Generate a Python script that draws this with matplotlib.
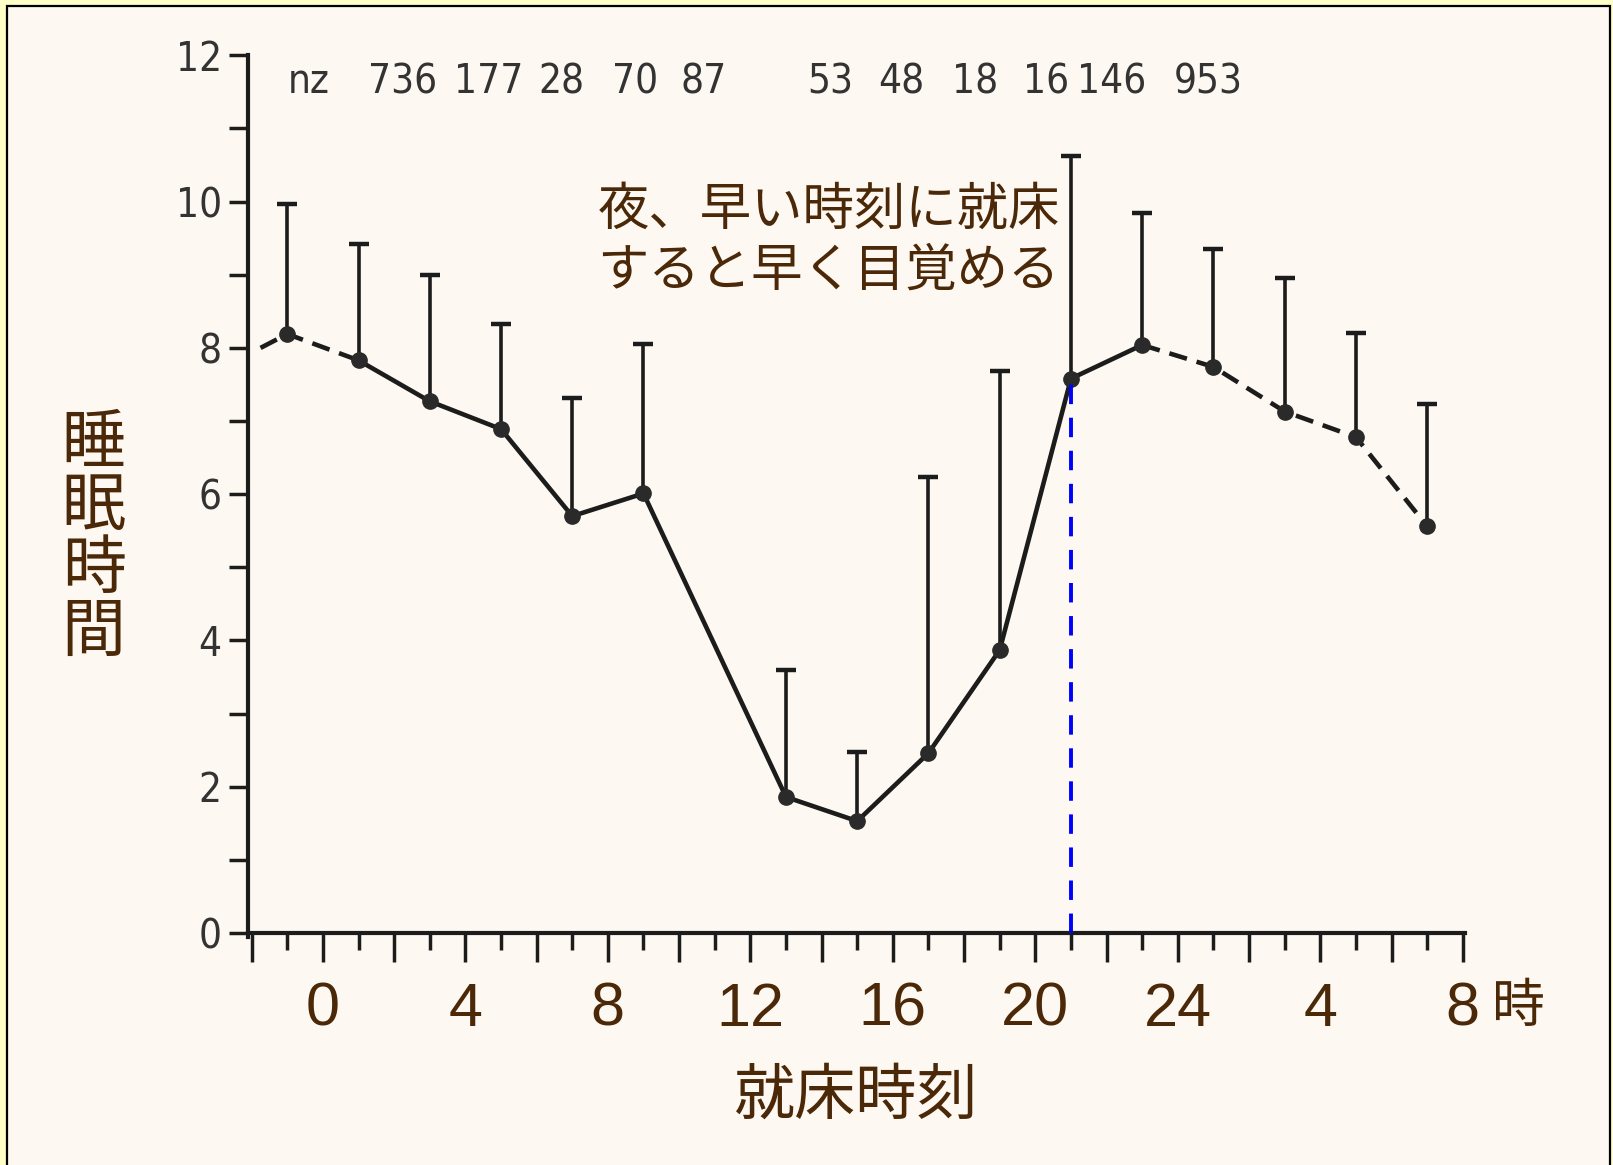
import matplotlib
matplotlib.use("Agg")
import matplotlib.pyplot as plt
from matplotlib.patches import Rectangle
from matplotlib.ticker import MultipleLocator, FixedLocator

plt.rcParams['font.family'] = ['Noto Sans CJK JP', 'DejaVu Sans']

# ------------------------------------------------------
# Data: mean sleep length (h) by bedtime (clock hours, continuing past 24)
bed_hours = [-1, 1, 3, 5, 7, 9, 13, 15, 17, 19, 21, 23, 25, 27, 29, 31]
sleep_mean = [8.19, 7.83, 7.27, 6.89, 5.70, 6.01, 1.86, 1.53, 2.46, 3.87,
              7.58, 8.04, 7.74, 7.13, 6.78, 5.56]
sleep_upper = [9.97, 9.42, 8.99, 8.33, 7.31, 8.05, 3.59, 2.48, 6.24, 7.69,
               10.62, 9.85, 9.35, 8.96, 8.21, 7.23]
# the curve enters the panel from the left edge
lead_in_hour = -1.75
lead_in_value = 8.0

# counts written across the top of the panel
nz_labels = ['nz', '736', '177', '28', '70', '87',
             '53', '48', '18', '16', '146', '953']
nz_hours = [-0.4, 2.25, 4.65, 6.7, 8.75, 10.7,
            14.25, 16.25, 18.3, 20.3, 22.15, 24.85]

xtick_hours = [0, 4, 8, 12, 16, 20, 24, 28, 32]
xtick_labels = ['0', '4', '8', '12', '16', '20', '24', '4', '8']
ytick_values = [0, 2, 4, 6, 8, 10, 12]
# ------------------------------------------------------

ink = '#1c1c1c'
brown = '#4a2808'
grey = '#333333'

fig = plt.figure(figsize=(16.13, 11.65), dpi=100, facecolor='#ffffc8')
fig.patches.append(Rectangle((7 / 1613, -0.01), 1603 / 1613, 1.01 - 6 / 1165,
                             transform=fig.transFigure, facecolor='#fdf8f1',
                             edgecolor='black', linewidth=1.6, zorder=-10))

ax = fig.add_axes([0.1538, 0.1991, 0.7542, 0.7534])
ax.set_facecolor('none')
ax.set_xlim(-2.1, 32.05)
ax.set_ylim(0, 12)

for side in ['top', 'right']:
    ax.spines[side].set_visible(False)
for side in ['left', 'bottom']:
    ax.spines[side].set_linewidth(3)
    ax.spines[side].set_color(ink)
ax.spines['left'].set_bounds(-0.05, 12)

# y axis: major every 2 h, minor in between
ax.yaxis.set_major_locator(FixedLocator(ytick_values))
ax.yaxis.set_minor_locator(MultipleLocator(1))
ax.tick_params(axis='y', which='both', direction='out', length=14, width=2.5,
               color=ink, pad=5)
ax.set_yticklabels([str(v) for v in ytick_values], color=grey, fontsize=29,
                   family=['DejaVu Sans'], fontstretch='condensed')

# x axis: hourly ticks, longer on even hours, labels every 4 h
ax.xaxis.set_major_locator(FixedLocator(list(range(-2, 33, 2))))
ax.xaxis.set_minor_locator(FixedLocator(list(range(-1, 33, 2))))
ax.set_xticklabels([xtick_labels[xtick_hours.index(h)] if h in xtick_hours else ''
                    for h in range(-2, 33, 2)],
                   color=brown, fontsize=44, family=['Liberation Sans', 'DejaVu Sans'])
ax.tick_params(axis='x', which='major', direction='out', length=21, width=2.5,
               color=ink, pad=14)
ax.tick_params(axis='x', which='minor', direction='out', length=12, width=2.5,
               color=ink)

# upper error bars: stem from the mean to the upper value, capped
ax.vlines(bed_hours, sleep_mean, sleep_upper, color=ink, lw=2.6, zorder=3)
ax.plot(bed_hours, sleep_upper, linestyle='none', marker='_', markersize=14,
        markeredgewidth=3.2, color=ink, zorder=3)

# curve: dashed ends, solid middle
dash = (0, (4, 2.2))
ax.plot([lead_in_hour] + bed_hours[:2], [lead_in_value] + sleep_mean[:2],
        color=ink, lw=3.3, linestyle=dash, zorder=4)
ax.plot(bed_hours[1:12], sleep_mean[1:12], color=ink, lw=3.3, zorder=4)
ax.plot(bed_hours[11:], sleep_mean[11:], color=ink, lw=3.3, linestyle=dash,
        zorder=4)
ax.plot(bed_hours, sleep_mean, linestyle='none', marker='o', markersize=11,
        color='#2a2a2a', zorder=5)

# bedtime 21h marker down to the axis
i21 = bed_hours.index(21)
ax.plot([bed_hours[i21], bed_hours[i21]], [0, sleep_mean[i21]], color='#0000ff',
        lw=2.8, linestyle=(0, (5, 3.5)), zorder=6)

for lab, h in zip(nz_labels, nz_hours):
    ax.text(h, 11.63, lab, ha='center', va='center', fontsize=29, color=grey,
            family=['DejaVu Sans'], fontstretch='condensed')

ax.text(14.2, 9.47, '夜、早い時刻に就床\nすると早く目覚める', ha='center',
        va='center', fontsize=37, color=brown, linespacing=1.2)

ax.text(33.55, -1.0, '時', ha='center', va='center', fontsize=38, color=brown,
        clip_on=False)

ax.set_xlabel('就床時刻', fontsize=44, color=brown)
ax.xaxis.set_label_coords(0.4997, -0.186)
ax.xaxis.label.set_va('center')

ax.set_ylabel('睡\n眠\n時\n間', fontsize=46, color=brown, rotation=0,
              linespacing=0.93)
ax.yaxis.set_label_coords(-0.127, 0.45)
ax.yaxis.label.set_va('center')
ax.yaxis.label.set_ha('center')

fig.savefig('out.png', dpi=100, facecolor=fig.get_facecolor())
